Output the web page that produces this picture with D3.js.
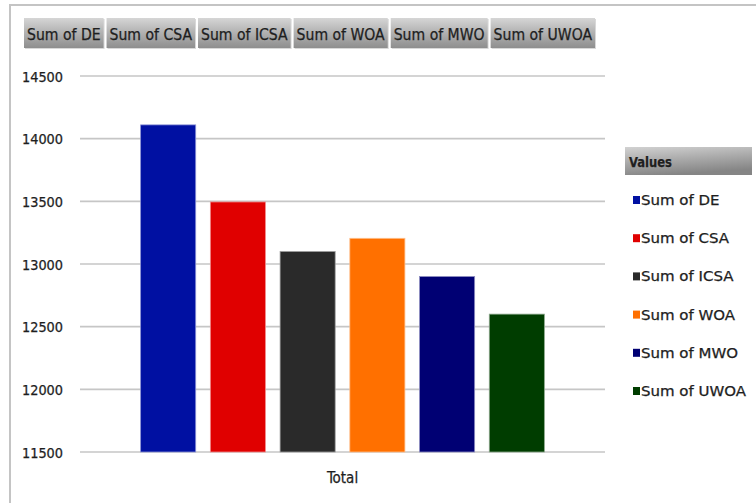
<!DOCTYPE html>
<html>
<head>
<meta charset="utf-8">
<script src="https://cdn.jsdelivr.net/npm/d3@7"></script>
<style>
  html, body { margin: 0; padding: 0; background: #ffffff; }
  svg { display: block; }
  text { font-family: "DejaVu Sans Condensed", "DejaVu Sans", sans-serif; fill: #1e1e1e; stroke: #1e1e1e; stroke-width: 0.25px; }
</style>
</head>
<body>
<script>
// ---- data ----
const categories = ["Total"];
const seriesNames = ["Sum of DE", "Sum of CSA", "Sum of ICSA", "Sum of WOA", "Sum of MWO", "Sum of UWOA"];
const seriesValues = [14110, 13495, 13100, 13205, 12900, 12600];
const yTicks = [11500, 12000, 12500, 13000, 13500, 14000, 14500];
const seriesColors = ["#0010a2", "#e00000", "#2a2a2a", "#ff7000", "#000073", "#003d00"];
const legendTitle = "Values";

// ---- layout ----
const W = 756, H = 503;
const plot = { left: 80, right: 605, top: 76, bottom: 452 };

const svg = d3.select("body").append("svg").attr("width", W).attr("height", H);
const defs = svg.append("defs");

const gBtn = defs.append("linearGradient").attr("id", "btnGrad").attr("x1", 0).attr("y1", 0).attr("x2", 0).attr("y2", 1);
gBtn.append("stop").attr("offset", "0%").attr("stop-color", "#d6d6d6");
gBtn.append("stop").attr("offset", "45%").attr("stop-color", "#b4b4b4");
gBtn.append("stop").attr("offset", "100%").attr("stop-color", "#8e8e8e");

const gHead = defs.append("linearGradient").attr("id", "headGrad").attr("x1", 0).attr("y1", 0).attr("x2", 0.3).attr("y2", 1);
gHead.append("stop").attr("offset", "0%").attr("stop-color", "#d2d2d2");
gHead.append("stop").attr("offset", "50%").attr("stop-color", "#ababab");
gHead.append("stop").attr("offset", "100%").attr("stop-color", "#858585");

// outer border of chart area
svg.append("path")
  .attr("d", `M10,${H} V5 H${W}`)
  .attr("fill", "none")
  .attr("stroke", "#c4c4c4")
  .attr("stroke-width", 2);

// ---- scales ----
const y = d3.scaleLinear().domain([11500, 14500]).range([plot.bottom, plot.top]);
const x0 = d3.scaleBand().domain(categories).range([plot.left, plot.right]).padding(0.113);
const x1 = d3.scaleBand().domain(seriesNames).range([0, x0.bandwidth()]).paddingInner(0.21).paddingOuter(0.105);

// ---- gridlines + y axis labels ----
const yAxis = d3.axisLeft(y).tickValues(yTicks).tickSize(0).tickPadding(0).tickFormat(d3.format("d"));
const yG = svg.append("g").attr("transform", "translate(63,0)").call(yAxis);
yG.select(".domain").remove();
yG.selectAll("text")
  .attr("font-size", 14)
  .attr("fill", "#1e1e1e")
  .attr("dy", "0.36em")
  .attr("font-family", "DejaVu Sans Condensed, DejaVu Sans, sans-serif")
  .attr("textLength", 41)
  .attr("lengthAdjust", "spacingAndGlyphs");

svg.append("g").selectAll("line").data(yTicks).join("line")
  .attr("x1", plot.left).attr("x2", plot.right)
  .attr("y1", d => y(d)).attr("y2", d => y(d))
  .attr("stroke", "#c6c6c6").attr("stroke-width", 1.6);

// ---- bars ----
const cat = svg.append("g").selectAll("g").data(categories).join("g")
  .attr("transform", d => `translate(${x0(d)},0)`);

cat.selectAll("rect")
  .data(seriesNames.map((s, i) => ({ name: s, value: seriesValues[i], color: seriesColors[i] })))
  .join("rect")
  .attr("x", d => x1(d.name))
  .attr("width", x1.bandwidth())
  .attr("y", d => y(d.value))
  .attr("height", d => y(11500) - y(d.value))
  .attr("fill", d => d.color)
  .attr("stroke", d => d3.interpolateRgb(d.color, "#ffffff")(0.55))
  .attr("stroke-width", 0.8);

// x axis category label
const xAxis = d3.axisBottom(x0).tickSize(0).tickPadding(0);
const xG = svg.append("g").attr("transform", `translate(0,${plot.bottom})`).call(xAxis);
xG.select(".domain").remove();
xG.selectAll("text")
  .attr("font-size", 15)
  .attr("fill", "#1e1e1e")
  .attr("dy", "2.05em")
  .attr("font-family", "DejaVu Sans Condensed, DejaVu Sans, sans-serif");

// ---- field buttons on top ----
const btnG = svg.append("g");
const measure = svg.append("text").attr("font-size", 15).attr("visibility", "hidden");
const natural = seriesNames.map(s => { measure.text(s); return measure.node().getComputedTextLength(); });
measure.remove();
const btnStart = 24, btnEnd = 595, btnGap = 3, btnPad = 6;
const k = (btnEnd - btnStart - btnGap * (seriesNames.length - 1) - btnPad * seriesNames.length) / d3.sum(natural);
let bx = btnStart;
seriesNames.forEach((s, i) => {
  const tw = natural[i] * k;
  const bw = tw + btnPad;
  btnG.append("rect").attr("x", bx + 1).attr("y", 19).attr("width", bw).attr("height", 30)
    .attr("fill", "#d8d8d8");
  btnG.append("rect").attr("x", bx).attr("y", 18).attr("width", bw).attr("height", 30)
    .attr("fill", "url(#btnGrad)");
  btnG.append("text").attr("x", bx + btnPad / 2).attr("y", 40)
    .attr("font-size", 15)
    .attr("fill", "#1a1a1a")
    .attr("textLength", tw).attr("lengthAdjust", "spacingAndGlyphs")
    .text(s);
  bx += bw + btnGap;
});

// ---- legend ----
const leg = svg.append("g");
leg.append("rect").attr("x", 625).attr("y", 147).attr("width", 127).attr("height", 28)
  .attr("fill", "url(#headGrad)");
leg.append("text").attr("x", 629).attr("y", 167)
  .attr("font-size", 14).attr("font-weight", "bold")
  .attr("fill", "#1a1a1a")
  .attr("textLength", 43).attr("lengthAdjust", "spacingAndGlyphs")
  .text(legendTitle);

const ly = d3.scalePoint().domain(seriesNames).range([200, 391]);
const lm = svg.append("text").attr("font-size", 14).attr("visibility", "hidden");
const legNat = seriesNames.map(s => { lm.text(s); return lm.node().getComputedTextLength(); });
lm.remove();
const k2 = 105 / d3.max(legNat);

const items = leg.selectAll("g.item").data(seriesNames).join("g").attr("class", "item")
  .attr("transform", d => `translate(0,${ly(d)})`);
items.append("rect").attr("x", 633).attr("y", -4).attr("width", 7).attr("height", 8)
  .attr("fill", (d, i) => seriesColors[i]);
items.append("text").attr("x", 641).attr("y", 5)
  .attr("font-size", 14)
  .attr("fill", "#1e1e1e")
  .attr("textLength", (d, i) => legNat[i] * k2).attr("lengthAdjust", "spacingAndGlyphs")
  .text(d => d);
</script>
</body>
</html>
